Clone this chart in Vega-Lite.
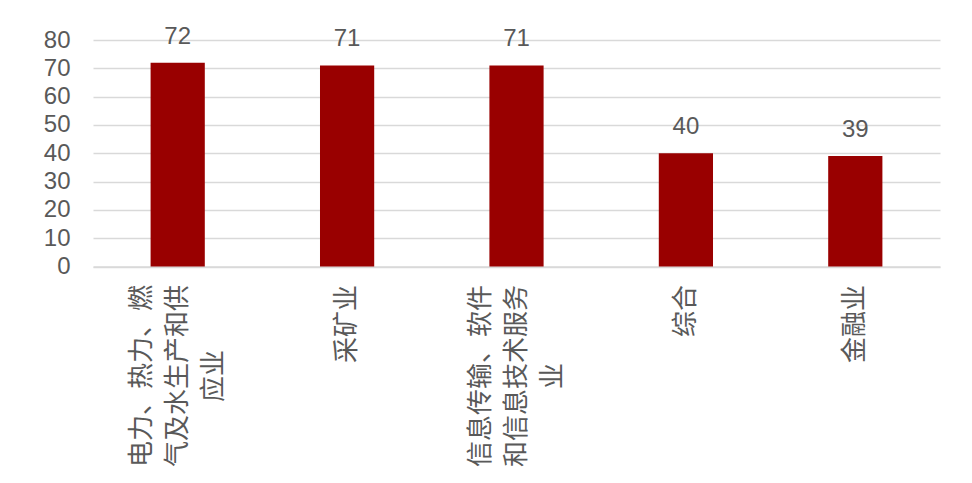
{
  "$schema": "https://vega.github.io/schema/vega-lite/v6.json",
  "width": 847,
  "height": 226.5,
  "autosize": {"type": "none"},
  "padding": {"left": 93, "top": 40, "right": 32, "bottom": 216.5},
  "background": "white",
  "data": {
    "values": [
      {"industry": "电力、热力、燃|气及水生产和供|应业", "order": 1, "value": 72},
      {"industry": "采矿业", "order": 2, "value": 71},
      {"industry": "信息传输、软件|和信息技术服务|业", "order": 3, "value": 71},
      {"industry": "综合", "order": 4, "value": 40},
      {"industry": "金融业", "order": 5, "value": 39}
    ]
  },
  "encoding": {
    "x": {
      "field": "industry",
      "type": "nominal",
      "sort": {"field": "order"},
      "scale": {"paddingInner": 0.68, "paddingOuter": 0.34},
      "axis": {
        "title": null,
        "labelAngle": 270,
        "labelAlign": "center",
        "labelBaseline": "middle",
        "labelExpr": "split(datum.label, '|')",
        "labelFont": "Noto Sans CJK SC",
        "labelFontSize": 26,
        "labelLineHeight": 36,
        "labelColor": "#595959",
        "labelPadding": {
          "condition": [
            {"test": "datum.value == '采矿业' || datum.value == '金融业'", "value": 57},
            {"test": "datum.value == '综合'", "value": 44}
          ],
          "value": 109
        },
        "labelOffset": {
          "condition": {"test": "indexof(datum.value, '|') >= 0", "value": -36},
          "value": 0
        },
        "labelLimit": 0,
        "labelOverlap": false,
        "ticks": false,
        "domain": true,
        "domainColor": "#d9d9d9",
        "domainWidth": 1.5
      }
    },
    "y": {
      "field": "value",
      "type": "quantitative",
      "scale": {"domain": [0, 80]},
      "axis": {
        "title": null,
        "values": [0, 10, 20, 30, 40, 50, 60, 70, 80],
        "labelFont": "Liberation Sans",
        "labelFontSize": 24,
        "labelColor": "#595959",
        "labelPadding": 23,
        "ticks": false,
        "domain": false,
        "grid": true,
        "gridColor": "#d9d9d9",
        "gridWidth": 1.5
      }
    }
  },
  "layer": [
    {"mark": {"type": "bar", "color": "#990000"}},
    {
      "mark": {
        "type": "text",
        "baseline": "alphabetic",
        "dy": -19,
        "font": "Liberation Sans",
        "fontSize": 24,
        "color": "#595959"
      },
      "encoding": {"text": {"field": "value", "type": "quantitative"}}
    }
  ],
  "config": {"view": {"stroke": null}}
}
